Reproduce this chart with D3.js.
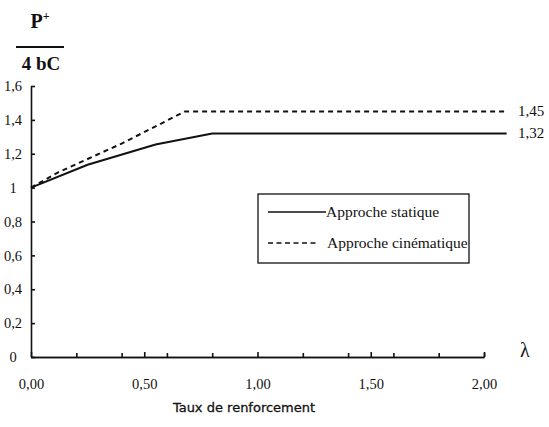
<!DOCTYPE html>
<html>
<head>
<meta charset="utf-8">
<script src="https://cdn.jsdelivr.net/npm/d3@7"></script>
<style>
  body { margin: 0; background: #fff; }
  text { fill: #111; }
</style>
</head>
<body>
<div id="chart"></div>
<script>
// DATA
var lambdaStatic = [0, 0.25, 0.55, 0.8, 2.1];
var valueStatic = [1.0, 1.135, 1.255, 1.32, 1.32];
var lambdaCinem = [0, 0.12, 0.4, 0.68, 2.1];
var valueCinem = [1.0, 1.09, 1.26, 1.45, 1.45];
var yTicks = [0, 0.2, 0.4, 0.6, 0.8, 1, 1.2, 1.4, 1.6];
var xMinorTicks = [0.2, 0.4, 0.6, 0.8, 1.2, 1.4, 1.6, 1.8, 2.0];
var xMajorTicks = [0, 0.5, 1, 1.5, 2];
var legendNames = ['Approche statique', 'Approche cinématique'];
var endLabels = ['1,45', '1,32'];
var endValues = [1.45, 1.32];

var width = 549, height = 427;
var svg = d3.select('#chart').append('svg')
  .attr('width', width)
  .attr('height', height);

// SCALE
var x = d3.scaleLinear().domain([0, 2]).range([31, 484]);
var y = d3.scaleLinear().domain([0, 1.6]).range([357, 86]);

function comma(s) { return String(s).replace('.', ','); }

// Y axis
var yAxis = d3.axisLeft(y)
  .tickValues(yTicks)
  .tickSizeInner(-4)
  .tickSizeOuter(0)
  .tickFormat(function(d) { return comma(d3.format('~g')(d)); });

var gy = svg.append('g')
  .attr('transform', 'translate(' + x(0) + ',0)')
  .call(yAxis);
gy.selectAll('text')
  .attr('x', -18)
  .attr('text-anchor', 'middle')
  .style('font-family', '"Liberation Serif", serif')
  .style('font-size', '14.5px');

// X axis, small ticks
var gxMinor = svg.append('g')
  .attr('transform', 'translate(0,' + y(0) + ')')
  .call(d3.axisBottom(x).tickValues(xMinorTicks).tickSizeInner(-4).tickSizeOuter(0).tickFormat(''));

// X axis, labelled ticks
var gx = svg.append('g')
  .attr('transform', 'translate(0,' + y(0) + ')')
  .call(d3.axisBottom(x).tickValues(xMajorTicks).tickSizeInner(-5).tickSizeOuter(0)
    .tickFormat(function(d) { return comma(d3.format('.2f')(d)); }));
gx.selectAll('text')
  .attr('y', 22)
  .style('font-family', '"Liberation Serif", serif')
  .style('font-size', '14.5px');

svg.selectAll('.domain, .tick line')
  .attr('stroke', '#111')
  .attr('stroke-width', 1.6);
svg.selectAll('.tick text').attr('fill', '#111');

// lines
var line = d3.line()
  .x(function(d) { return x(d[0]); })
  .y(function(d) { return y(d[1]); });

svg.append('path')
  .attr('d', line(d3.zip(lambdaStatic, valueStatic)))
  .attr('fill', 'none')
  .attr('stroke', '#111')
  .attr('stroke-width', 2);

svg.append('path')
  .attr('d', line(d3.zip(lambdaCinem, valueCinem)))
  .attr('fill', 'none')
  .attr('stroke', '#111')
  .attr('stroke-width', 2)
  .attr('stroke-dasharray', '5,4');

// end labels
svg.selectAll('.endLabel')
  .data(endLabels)
  .enter().append('text')
  .attr('x', 518)
  .attr('y', function(d, i) { return y(endValues[i]) + 5; })
  .style('font-family', '"Liberation Serif", serif')
  .style('font-size', '15px')
  .text(function(d) { return d; });

// legend
svg.append('rect')
  .attr('x', 258).attr('y', 194)
  .attr('width', 211).attr('height', 69)
  .attr('fill', 'none')
  .attr('stroke', '#111')
  .attr('stroke-width', 1.3);

var legendY = [212, 243];
var legendEnd = [326, 318];
svg.selectAll('.legLine')
  .data(legendNames)
  .enter().append('line')
  .attr('x1', 268)
  .attr('x2', function(d, i) { return legendEnd[i]; })
  .attr('y1', function(d, i) { return legendY[i]; })
  .attr('y2', function(d, i) { return legendY[i]; })
  .attr('stroke', '#111')
  .attr('stroke-width', 1.5)
  .attr('stroke-dasharray', function(d, i) { return i == 1 ? '5,3.5' : null; });

svg.selectAll('.legText')
  .data(legendNames)
  .enter().append('text')
  .attr('x', function(d, i) { return i == 0 ? 326 : 327; })
  .attr('y', function(d, i) { return legendY[i] + 5; })
  .style('font-family', '"Liberation Serif", serif')
  .style('font-size', '15.5px')
  .text(function(d) { return d; });

// y title : P+ / 4 bC
svg.append('text')
  .attr('x', 40).attr('y', 28)
  .attr('text-anchor', 'middle')
  .style('font-family', '"Liberation Serif", serif')
  .style('font-size', '20px')
  .style('font-weight', 'bold')
  .html('P<tspan dy="-8" font-size="12px">+</tspan>');
svg.append('line')
  .attr('x1', 16).attr('x2', 64)
  .attr('y1', 47).attr('y2', 47)
  .attr('stroke', '#111')
  .attr('stroke-width', 2);
svg.append('text')
  .attr('x', 41).attr('y', 70)
  .attr('text-anchor', 'middle')
  .style('font-family', '"Liberation Serif", serif')
  .style('font-size', '19px')
  .style('font-weight', 'bold')
  .text('4 bC');

// lambda
svg.append('text')
  .attr('x', 520).attr('y', 357)
  .style('font-family', '"Liberation Serif", serif')
  .style('font-size', '20px')
  .text('λ');

// x title
svg.append('text')
  .attr('x', 244).attr('y', 412)
  .attr('text-anchor', 'middle')
  .style('font-family', '"DejaVu Sans", sans-serif')
  .style('font-size', '13px')
  .style('stroke', '#111')
  .style('stroke-width', 0.3)
  .text('Taux de renforcement');
</script>
</body>
</html>
